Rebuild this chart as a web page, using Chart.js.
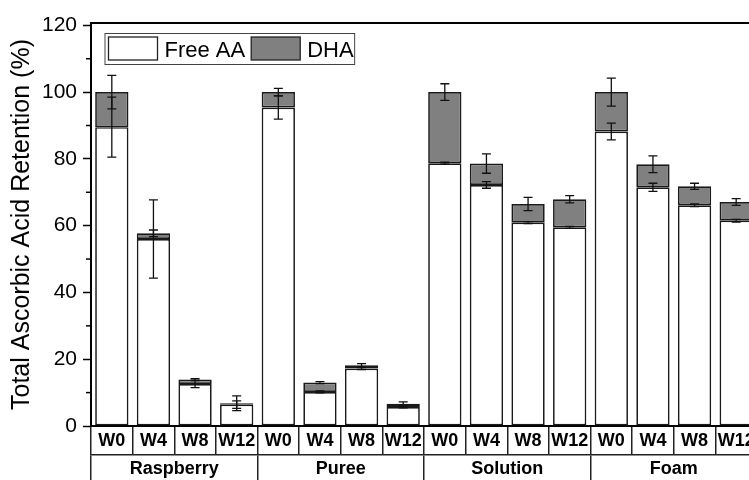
<!DOCTYPE html>
<html lang="en">
<head>
  <meta charset="UTF-8" />
  <title>Total Ascorbic Acid Retention</title>
  <script src="https://cdn.jsdelivr.net/npm/chart.js"></script>
  <style>
    html, body {
      margin: 0;
      padding: 0;
      background: #fff;
      overflow: hidden;
    }
    #wrap {
      width: 749px;
      height: 480px;
      overflow: hidden;
    }
    canvas {
      display: block;
    }
  </style>
</head>
<body>
  <div id="wrap"><canvas id="grafico" width="760" height="480"></canvas></div>

  <script>
    // categories
    const weeks = ['W0', 'W4', 'W8', 'W12', 'W0', 'W4', 'W8', 'W12',
                   'W0', 'W4', 'W8', 'W12', 'W0', 'W4', 'W8', 'W12'];
    const groups = ['Raspberry', 'Puree', 'Solution', 'Foam'];

    // stacked values (%)
    const freeAA = [89.5, 56.0, 12.6, 6.4,   95.4, 10.2, 17.2, 5.7,
                    78.7, 72.2, 60.9, 59.5,  88.2, 71.5, 66.1, 61.5];
    const dha    = [10.5, 1.7, 1.3, 0.4,     4.6, 2.8, 1.0, 1.0,
                    21.3, 6.4, 5.6, 8.4,     11.8, 6.9, 5.7, 5.6];

    // error bars: free AA and total (free AA + DHA)
    const freeErr  = [9.0, 11.7, 1.1, 1.1,   3.5, 0.3, 0.3, 0.3,
                      0.3, 1.0, 0.3, 0.3,    2.5, 1.2, 0.4, 0.4];
    const totalErr = [5.0, 1.0, 0.3, 2.2,    1.1, 0.3, 0.5, 0.5,
                      2.5, 2.9, 2.0, 1.1,    4.2, 2.5, 0.9, 1.0];

    Chart.defaults.font.family = 'Arial, "Liberation Sans", sans-serif';
    Chart.defaults.color = '#000';

    // error bars drawn on top of the stacked bars
    const errorBars = {
      id: 'errorBars',
      afterDatasetsDraw(chart) {
        const ctx = chart.ctx;
        const y = chart.scales.y;
        const bars = chart.getDatasetMeta(0).data;
        ctx.save();
        ctx.strokeStyle = '#111';
        ctx.lineWidth = 1.3;
        bars.forEach((bar, i) => {
          const total = freeAA[i] + dha[i];
          [[freeAA[i], freeErr[i]], [total, totalErr[i]]].forEach(([v, e]) => {
            const y1 = y.getPixelForValue(v - e);
            const y2 = y.getPixelForValue(v + e);
            ctx.beginPath();
            ctx.moveTo(bar.x, y1); ctx.lineTo(bar.x, y2);
            ctx.moveTo(bar.x - 4.5, y1); ctx.lineTo(bar.x + 4.5, y1);
            ctx.moveTo(bar.x - 4.5, y2); ctx.lineTo(bar.x + 4.5, y2);
            ctx.stroke();
          });
        });
        ctx.restore();
      }
    };

    // frame, minor ticks and the boxed legend inside the plot
    const extras = {
      id: 'extras',
      afterDraw(chart) {
        const ctx = chart.ctx;
        const a = chart.chartArea;
        const y = chart.scales.y;
        ctx.save();

        ctx.strokeStyle = '#000';
        ctx.lineWidth = 2;
        ctx.beginPath();
        ctx.moveTo(a.left, a.top);
        ctx.lineTo(a.right, a.top);
        ctx.lineTo(a.right, a.bottom);
        ctx.stroke();

        // minor ticks halfway between the labelled ones
        ctx.lineWidth = 1.5;
        const t = y.ticks;
        for (let i = 0; i < t.length - 1; i++) {
          const py = y.getPixelForValue((t[i].value + t[i + 1].value) / 2);
          ctx.beginPath();
          ctx.moveTo(a.left - 5, py);
          ctx.lineTo(a.left, py);
          ctx.stroke();
        }

        // legend
        ctx.font = '22px Arial, "Liberation Sans", sans-serif';
        ctx.textBaseline = 'alphabetic';
        const lx = a.left + 14, ly = a.top + 10.5, lh = 31;
        let x = lx + 3.5;
        chart.data.datasets.forEach(ds => {
          ctx.fillStyle = ds.backgroundColor;
          ctx.fillRect(x, ly + 3.5, 49, 23);
          ctx.strokeStyle = '#222';
          ctx.lineWidth = 1.3;
          ctx.strokeRect(x, ly + 3.5, 49, 23);
          ctx.fillStyle = '#000';
          ctx.fillText(ds.label, x + 56, ly + 23.5);
          x += 56 + ctx.measureText(ds.label).width + 6;
        });
        ctx.strokeStyle = '#444';
        ctx.lineWidth = 1;
        ctx.strokeRect(lx, ly, x - lx - 5, lh);

        ctx.restore();
      }
    };

    const ctxBar = document.getElementById('grafico').getContext('2d');
    new Chart(ctxBar, {
      type: 'bar',
      data: {
        labels: weeks,
        datasets: [
          {
            label: 'Free AA',
            data: freeAA,
            backgroundColor: '#ffffff',
            borderColor: '#1a1a1a',
            borderWidth: 1.7,
            borderSkipped: false,
            barPercentage: 0.8,
            categoryPercentage: 1
          },
          {
            label: 'DHA',
            data: dha,
            backgroundColor: '#808080',
            borderColor: '#1a1a1a',
            borderWidth: 1.7,
            borderSkipped: false,
            barPercentage: 0.8,
            categoryPercentage: 1
          }
        ]
      },
      options: {
        responsive: false,
        animation: false,
        layout: { padding: { left: 0, right: 3, top: 23, bottom: 0 } },
        plugins: {
          legend: { display: false },
          tooltip: { enabled: false }
        },
        scales: {
          x: {
            stacked: true,
            offset: true,
            weight: 0,
            ticks: {
              autoSkip: false,
              maxRotation: 0,
              minRotation: 0,
              padding: -25,
              font: { size: 18, weight: 'bold' }
            },
            grid: { offset: true, drawOnChartArea: false, tickLength: 29, color: '#222', lineWidth: 1.5 },
            border: { color: '#000', width: 2 },
            afterFit(s) { s.height = 29; }
          },
          x2: {
            type: 'category',
            labels: groups,
            position: 'bottom',
            offset: true,
            weight: 1,
            ticks: {
              autoSkip: false,
              maxRotation: 0,
              minRotation: 0,
              padding: -27,
              font: { size: 18, weight: 'bold' }
            },
            grid: { offset: true, drawOnChartArea: false, tickLength: 30, color: '#222', lineWidth: 1.5 },
            border: { color: '#222', width: 1.5 },
            afterFit(s) { s.height = 25; }
          },
          y: {
            stacked: true,
            min: 0,
            max: 120.7,
            ticks: { stepSize: 20, includeBounds: false, padding: 6, font: { size: 21 } },
            grid: { drawOnChartArea: false, tickLength: 8, tickWidth: 1.5, tickColor: '#000' },
            border: { color: '#000', width: 2 },
            title: {
              display: true,
              text: 'Total Ascorbic Acid Retention (%)',
              font: { size: 25 },
              padding: { top: 7, bottom: 0 }
            },
            afterFit(s) { s.width = 91; }
          }
        }
      },
      plugins: [errorBars, extras]
    });
  </script>
</body>
</html>
